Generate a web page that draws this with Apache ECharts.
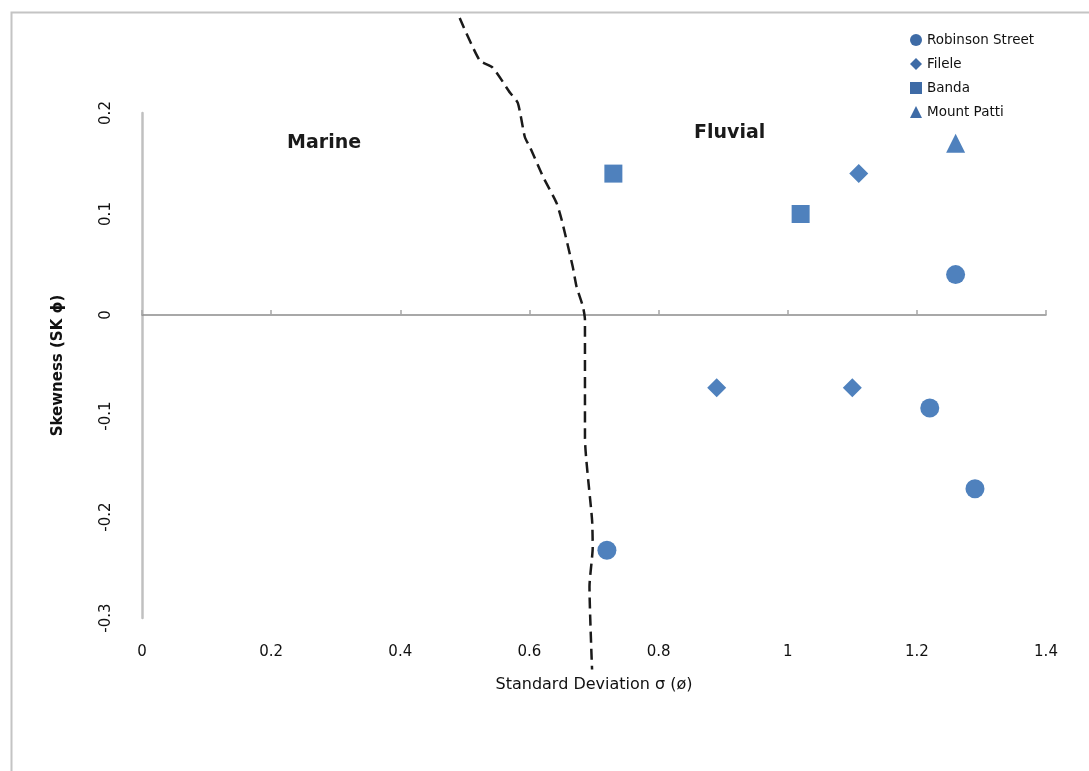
<!DOCTYPE html>
<html>
<head>
<meta charset="utf-8">
<script src="https://cdn.jsdelivr.net/npm/echarts@6/dist/echarts.min.js"></script>
<style>
html,body{margin:0;padding:0;background:#fff;}
#c{width:1089px;height:771px;}
</style>
</head>
<body>
<div id="c"></div>
<script>
// ---- data ----
const xTicks = [0, 0.2, 0.4, 0.6, 0.8, 1, 1.2, 1.4];
const yTicks = [-0.3, -0.2, -0.1, 0, 0.1, 0.2];
const robinsonStreet = [[1.26, 0.04], [1.22, -0.092], [1.29, -0.172], [0.72, -0.233]];
const filele = [[1.11, 0.14], [0.89, -0.072], [1.10, -0.072]];
const banda = [[0.73, 0.14], [1.02, 0.10]];
const mountPatti = [[1.26, 0.17]];
const boundary = [
  [0.492, 0.294], [0.523, 0.252], [0.543, 0.245], [0.570, 0.220], [0.582, 0.210],
  [0.593, 0.176], [0.601, 0.166], [0.621, 0.137], [0.642, 0.111], [0.650, 0.094],
  [0.667, 0.048], [0.673, 0.028], [0.683, 0.008], [0.686, -0.005], [0.686, -0.121],
  [0.697, -0.203], [0.698, -0.230], [0.693, -0.269], [0.697, -0.351]
];
const regionLabels = [{text: 'Marine', x: 0.282, y: 0.17}, {text: 'Fluvial', x: 0.91, y: 0.18}];

const FONT = '"DejaVu Sans", "Open Sans", sans-serif';
const BLUE = '#4F81BD';
const TXT = '#111';
const chart = echarts.init(document.getElementById('c'), null, {renderer: 'canvas'});

const scatter = (name, data, symbol, size) => ({
  name, type: 'scatter', data, symbol, symbolSize: size,
  itemStyle: {color: BLUE, opacity: 1}, xAxisIndex: 0, yAxisIndex: 0, z: 5
});

chart.setOption({
  animation: false,
  backgroundColor: '#fff',
  textStyle: {fontFamily: FONT},
  graphic: [{
    type: 'rect', left: 9, top: 10, shape: {width: 1200, height: 900},
    style: {fill: 'none', stroke: '#c4c4c4', lineWidth: 2}, z: -10, silent: true
  }],
  grid: {left: 142, right: 43, top: 113, height: 505},
  legend: {
    orient: 'vertical', left: 905, top: 28, itemWidth: 12, itemHeight: 12, itemGap: 10,
    textStyle: {fontFamily: FONT, fontSize: 13.5, lineHeight: 14, color: TXT},
    data: [
      {name: 'Robinson Street', icon: 'circle'},
      {name: 'Filele', icon: 'diamond'},
      {name: 'Banda', icon: 'rect'},
      {name: 'Mount Patti', icon: 'triangle'}
    ],
    itemStyle: {color: '#3E6BA6', opacity: 1}
  },
  xAxis: [{
    type: 'value', min: 0, max: 1.4, interval: 0.2, position: 'bottom',
    axisLine: {show: false, onZero: false}, axisTick: {show: false}, splitLine: {show: false},
    axisLabel: {margin: 27, fontSize: 15, color: TXT, fontFamily: FONT,
      formatter: v => { const t = xTicks.find(k => Math.abs(k - v) < 1e-9); return t === undefined ? '' : String(t); }},
    name: 'Standard Deviation σ (ø)', nameLocation: 'middle', nameGap: 59,
    nameTextStyle: {fontSize: 16, color: TXT, fontFamily: FONT}
  }, {
    type: 'value', min: 0, max: 1.4, interval: 0.2, position: 'bottom',
    axisLine: {show: true, onZero: true, lineStyle: {color: '#8c8c8c', width: 1.5}},
    axisTick: {show: true, inside: true, length: 5, lineStyle: {color: '#a6a6a6', width: 1.5}},
    axisLabel: {show: false}, splitLine: {show: false}
  }],
  yAxis: {
    type: 'value', min: -0.3, max: 0.2, interval: 0.1,
    axisLine: {show: true, onZero: false, lineStyle: {color: '#c0c0c0', width: 2.5}},
    axisTick: {show: false}, splitLine: {show: false},
    axisLabel: {rotate: 90, margin: 28, fontSize: 15, color: TXT, fontFamily: FONT,
      formatter: v => { const t = yTicks.find(k => Math.abs(k - v) < 1e-9); return t === undefined ? '' : String(t); }},
    name: 'Skewness (SK ϕ)', nameLocation: 'middle', nameGap: 76,
    nameTextStyle: {fontSize: 15, color: TXT, fontWeight: 'bold', fontFamily: FONT}
  },
  series: [
    scatter('Robinson Street', robinsonStreet, 'circle', 19),
    scatter('Filele', filele, 'diamond', 19),
    scatter('Banda', banda, 'rect', 18),
    scatter('Mount Patti', mountPatti, 'triangle', 19),
    {
      name: 'boundary', type: 'line', data: boundary, showSymbol: false, clip: false,
      smooth: 0.2, lineStyle: {color: '#1a1a1a', width: 2.5, type: [11, 6]}, z: 3, silent: true
    },
    {
      name: 'labels', type: 'scatter', data: regionLabels.map(r => ({value: [r.x, r.y], name: r.text})),
      symbolSize: 0, silent: true, itemStyle: {opacity: 1},
      label: {show: true, position: 'inside', formatter: p => p.name,
        fontSize: 19, fontWeight: 'bold', color: '#1a1a1a', opacity: 1, fontFamily: FONT}
    }
  ]
});
</script>
</body>
</html>
